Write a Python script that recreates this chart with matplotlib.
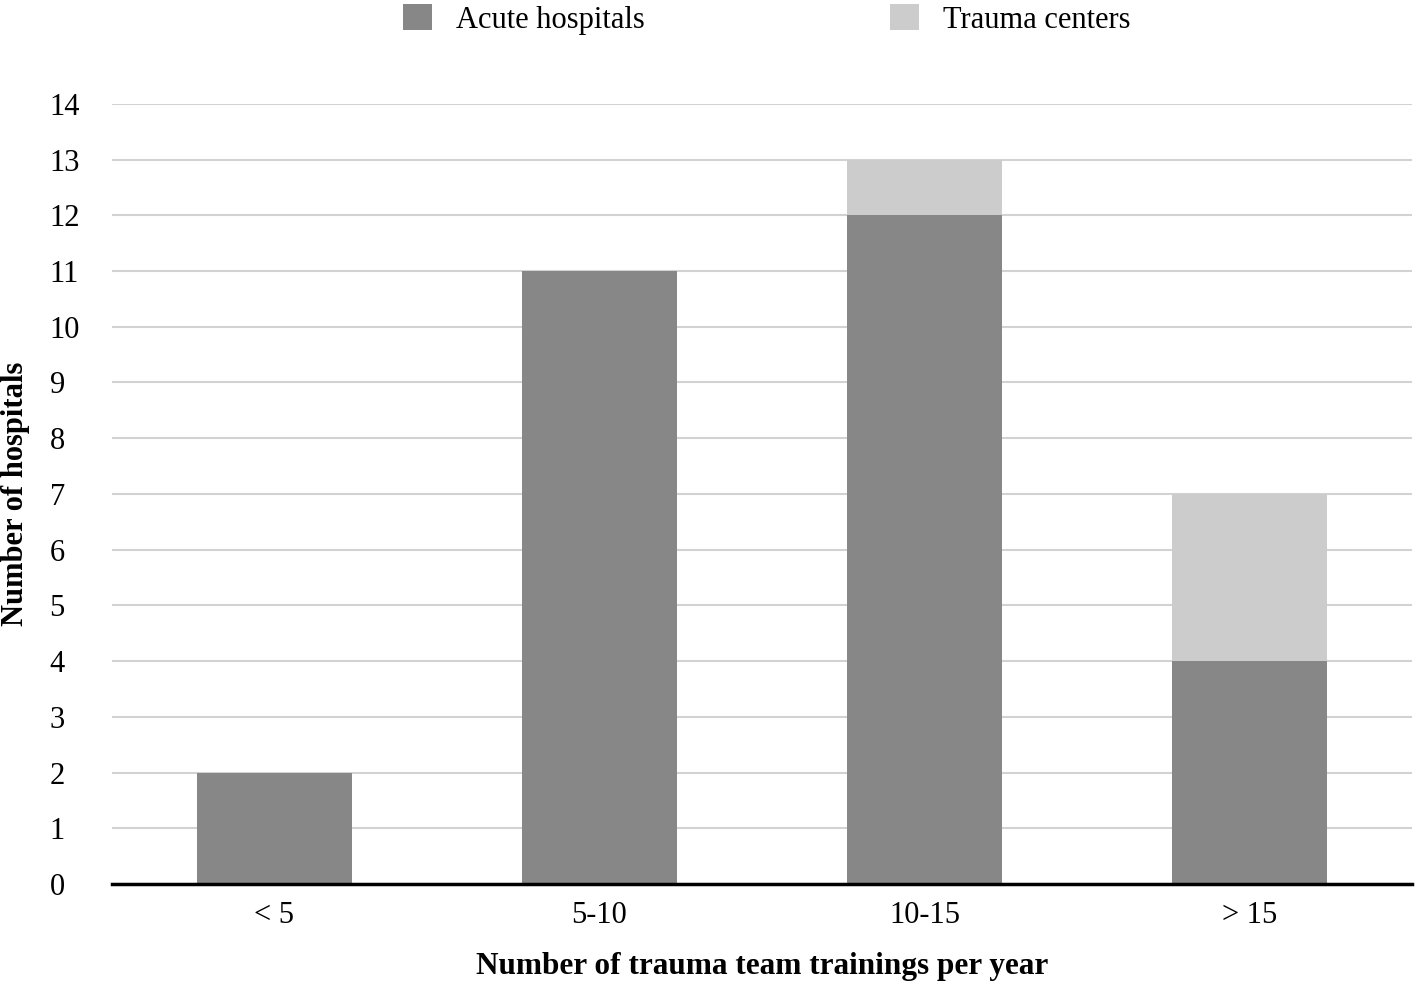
import matplotlib
matplotlib.use("Agg")
import matplotlib.pyplot as plt
import numpy as np

categories = ["< 5", "5-10", "10-15", "> 15"]
acute = [2, 11, 12, 4]
trauma = [0, 0, 1, 3]

plt.rcParams["font.family"] = ["Liberation Serif", "DejaVu Serif"]

fig = plt.figure(figsize=(14.16, 9.81), dpi=100)
ax = fig.add_axes([0.0791, 0.0989, 0.918, 0.7952])

x = np.arange(len(categories))
w = 0.475
ax.bar(x, acute, w, color="#878787", label="Acute hospitals", zorder=3)
ax.bar(x, trauma, w, bottom=acute, color="#cccccc", label="Trauma centers", zorder=3)

ax.set_xlim(-0.5, 3.5)
ax.set_ylim(0, 14)
ax.set_yticks(range(15))
ax.set_xticks(x)
ax.set_xticklabels(categories)
ax.tick_params(axis="both", length=0, labelsize=22)
ax.tick_params(axis="y", pad=45)
ax.tick_params(axis="x", pad=12)
for lbl in ax.get_yticklabels():
    lbl.set_horizontalalignment("left")
ax.grid(axis="y", color="#d2d2d2", linewidth=1.5, zorder=0)
for s in ["top", "right", "left"]:
    ax.spines[s].set_visible(False)
ax.spines["bottom"].set_linewidth(2.5)
ax.spines["bottom"].set_zorder(4)

ax.set_xlabel("Number of trauma team trainings per year", fontsize=22.5, fontweight="bold", labelpad=16)
ax.set_ylabel("Number of hospitals", fontsize=22, fontweight="bold", va="center")
ax.yaxis.set_label_coords(-0.0746, 0.5)

fig.legend(loc="upper center", bbox_to_anchor=(0.5415, 1.024), ncol=2, frameon=False,
           fontsize=22, handlelength=0.95, handleheight=0.95, columnspacing=8.0, handletextpad=0.8)

fig.savefig("out.png", dpi=100)
